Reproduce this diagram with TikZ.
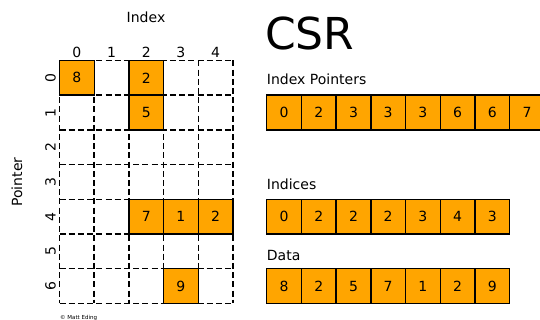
\documentclass[tikz,border=0pt]{standalone}
\usepackage{fontspec}
\setmainfont{DejaVu Sans}
\definecolor{cellorange}{HTML}{FFA500}
\tikzset{
  gridline/.style={line width=1.5pt, dash pattern=on 6pt off 3.2pt},
  cell/.style={draw=black, fill=cellorange, line width=1.4pt, minimum width=34.7pt,
    minimum height=34.7pt, inner sep=0pt, font=\fontsize{14}{16}\selectfont},
  axisnum/.style={inner sep=0pt, font=\fontsize{14}{16}\selectfont},
  caption/.style={inner sep=0pt, anchor=base west, font=\fontsize{14}{16}\selectfont},
}
\begin{document}
\begin{tikzpicture}[x=1pt,y=-1pt]
\useasboundingbox (0,0) rectangle (540,320);
\clip (0,0) rectangle (540,320);
\fill[white] (0,0) rectangle (540,320);

% matrix grid, 5 columns x 7 rows
\def\gx{59.5}\def\gy{60.5}\def\cs{34.7}
\foreach \c in {0,...,5}
  \draw[gridline] (\gx+\c*\cs, \gy) -- (\gx+\c*\cs, \gy+7*\cs);
\foreach \r in {0,...,7}
  \draw[gridline] (\gx, \gy+\r*\cs) -- (\gx+5*\cs, \gy+\r*\cs);

% axis labels
\node[inner sep=0pt, font=\fontsize{14}{16}\selectfont] (xtitle) at (146,17) {Index};
\node[inner sep=0pt, rotate=90, font=\fontsize{14}{16}\selectfont] (ytitle) at (17,182) {Pointer};
\foreach \c in {0,...,4}
  \node[axisnum, anchor=base] (col\c) at (\gx+\c*\cs+0.5*\cs, 57.3) {\c};
\foreach \r in {0,...,6}
  \node[axisnum, rotate=90, anchor=base] (row\r) at (55.5, \gy+\r*\cs+0.5*\cs) {\r};

% non-zero entries
\foreach \c/\r/\v in {0/0/8, 2/0/2, 2/1/5, 2/4/7, 3/4/1, 4/4/2, 3/6/9}
  \node[cell] (m\r\c) at (\gx+\c*\cs+0.5*\cs, \gy+\r*\cs+0.5*\cs) {\v};

% CSR arrays
\node[inner sep=0pt, anchor=base west, font=\fontsize{44}{50}\selectfont] (title) at (265,49.3) {CSR};
\def\ax{266.7}
\node[caption] (ptrlabel) at (\ax,85) {Index Pointers};
\foreach \v [count=\i from 0] in {0,2,3,3,3,6,6,7}
  \node[cell] (ptr\i) at (\ax+\i*\cs+0.5*\cs, \gy+1.5*\cs) {\v};
\node[caption] (idxlabel) at (\ax,190) {Indices};
\foreach \v [count=\i from 0] in {0,2,2,2,3,4,3}
  \node[cell] (idx\i) at (\ax+\i*\cs+0.5*\cs, \gy+4.5*\cs) {\v};
\node[caption] (datlabel) at (\ax,260) {Data};
\foreach \v [count=\i from 0] in {8,2,5,7,1,2,9}
  \node[cell] (dat\i) at (\ax+\i*\cs+0.5*\cs, \gy+6.5*\cs) {\v};

\node[inner sep=0pt, anchor=base west, font=\fontsize{5.5}{6}\selectfont] (credit) at (60,319) {© Matt Eding};
\end{tikzpicture}
\end{document}
